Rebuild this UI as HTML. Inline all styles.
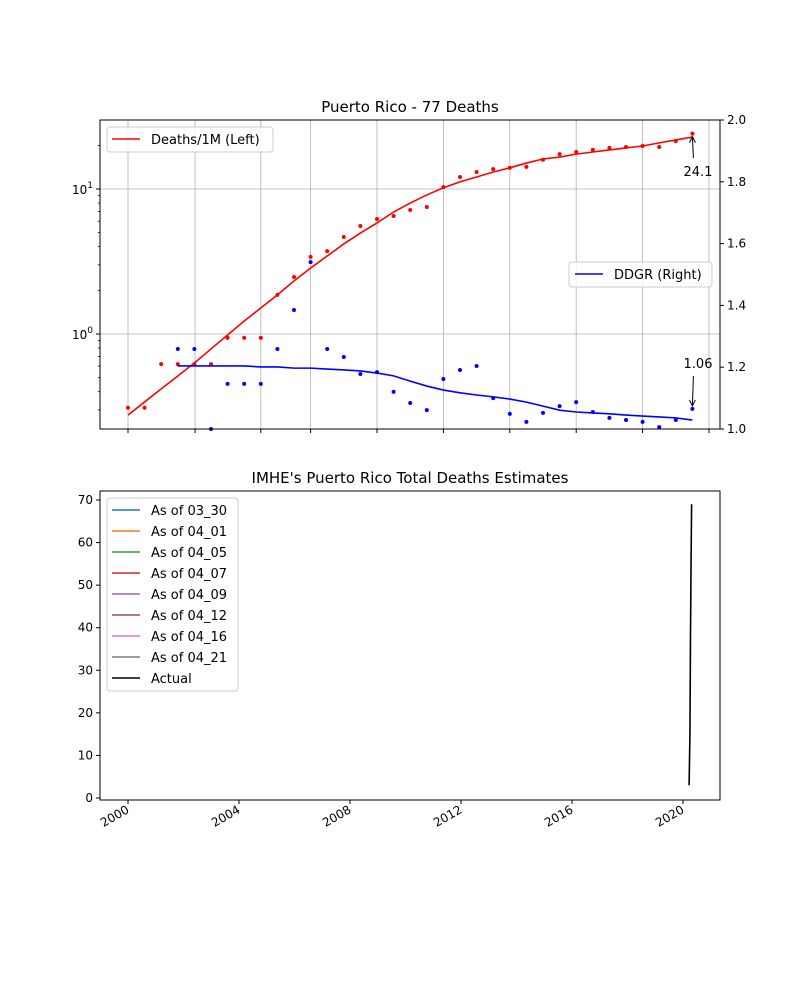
<!DOCTYPE html>
<html><head><meta charset="utf-8"><style>
body{margin:0;background:#fff}
svg text{font-family:"DejaVu Sans","Liberation Sans",sans-serif;fill:#000}
</style></head><body>
<svg id="c" width="800" height="1000" xmlns="http://www.w3.org/2000/svg"></svg>
<script>
const dayIdx=[0,1,2,3,4,5,6,7,8,9,10,11,12,13,14,15,16,17,18,19,20,21,22,23,24,25,26,27,28,29,30,31,32,33,34];
const deathsPts=[0.31,0.31,0.62,0.62,0.62,0.62,0.94,0.94,0.94,1.86,2.47,3.4,3.73,4.67,5.56,6.21,6.51,7.17,7.51,10.3,12.1,13.1,13.7,14.0,14.2,15.9,17.4,18.0,18.6,19.2,19.5,19.8,19.5,21.4,24.1];
const deathsFit=[0.276,0.34,0.418,0.513,0.631,0.789,0.984,1.23,1.51,1.86,2.32,2.85,3.45,4.18,4.97,5.83,6.94,8.0,9.1,10.2,11.2,12.1,13.1,14.0,15.1,16.1,16.6,17.4,18.0,18.6,19.2,19.8,20.8,21.8,22.8];
const ddgrStart=3;
const ddgrPts=[1.259,1.259,1.0,1.146,1.146,1.146,1.259,1.385,1.540,1.259,1.233,1.178,1.184,1.120,1.084,1.061,1.162,1.191,1.204,1.100,1.049,1.023,1.052,1.074,1.087,1.055,1.036,1.029,1.023,1.006,1.029,1.065];
const ddgrFit=[1.204,1.204,1.204,1.204,1.204,1.201,1.201,1.197,1.197,1.194,1.191,1.188,1.181,1.172,1.155,1.139,1.126,1.117,1.110,1.104,1.097,1.087,1.074,1.061,1.055,1.052,1.049,1.045,1.042,1.039,1.036,1.029];
const topGridDays=[0,4.04,8,11,15,19,23,27,31,35];
const leftTicks=[1,10];const leftTickLabels=["10$0","10$1"];
const rightTicks=[1.0,1.2,1.4,1.6,1.8,2.0];
const yearTicks=[2000,2004,2008,2012,2016,2020];
const countTicks=[0,10,20,30,40,50,60,70];
const actualYears=[2020.22,2020.25,2020.27,2020.29,2020.31];
const actualVals=[3,15,38,55,69];
const legendLabels=["As of 03_30","As of 04_01","As of 04_05","As of 04_07","As of 04_09","As of 04_12","As of 04_16","As of 04_21","Actual"];
const legendColors=["#1f77b4","#ff7f0e","#2ca02c","#d62728","#9467bd","#8c564b","#e377c2","#7f7f7f","#000"];

const S=document.getElementById('c');const NS='http://www.w3.org/2000/svg';
function mk(t,a,p,txt){const e=document.createElementNS(NS,t);for(const k in a)e.setAttribute(k,a[k]);if(txt!==undefined)e.textContent=txt;(p||S).appendChild(e);return e;}
const T={x0:100,x1:720,y0:120,y1:429};
const xd=d=>128+d*16.6;
const yl=v=>334-145*Math.log10(v);
const yr=v=>429-(v-1)*309;
const g1=mk('g',{});
mk('text',{x:410,y:112,'text-anchor':'middle','font-size':15},g1,'Puerto Rico - 77 Deaths');
topGridDays.forEach(d=>{const x=xd(d);mk('line',{x1:x,x2:x,y1:T.y0,y2:T.y1,stroke:'#b0b0b0','stroke-width':0.8},g1);mk('line',{x1:x,x2:x,y1:T.y1,y2:T.y1+4,stroke:'#000'},g1);});
leftTicks.forEach((v,i)=>{const y=yl(v);mk('line',{x1:T.x0,x2:T.x1,y1:y,y2:y,stroke:'#b0b0b0','stroke-width':0.8},g1);mk('line',{x1:T.x0-4,x2:T.x0,y1:y,y2:y,stroke:'#000'},g1);
 const t=mk('text',{x:T.x0-7,y:y+5,'text-anchor':'end','font-size':12},g1);
 const p=leftTickLabels[i].split('$');t.appendChild(document.createTextNode(p[0]));mk('tspan',{dy:-6,'font-size':9},t,p[1]);});
[0.3,0.4,0.5,0.6,0.7,0.8,0.9,2,3,4,5,6,7,8,9,20].forEach(v=>{const y=yl(v);if(y>T.y0&&y<T.y1)mk('line',{x1:T.x0-2,x2:T.x0,y1:y,y2:y,stroke:'#000','stroke-width':0.8},g1);});
rightTicks.forEach(v=>{const y=yr(v);mk('line',{x1:T.x1,x2:T.x1+4,y1:y,y2:y,stroke:'#000'},g1);const t=mk('text',{x:T.x1+7,y:y+4,'font-size':12},g1,v.toFixed(1));});
let p=mk('polyline',{points:dayIdx.map((d,i)=>xd(d)+','+yl(deathsFit[i])).join(' '),fill:'none',stroke:'#f00','stroke-width':1.6},g1);

dayIdx.forEach((d,i)=>{const c=mk('circle',{cx:xd(d),cy:yl(deathsPts[i]),r:2,fill:'#f00'},g1);});
p=mk('polyline',{points:ddgrFit.map((v,i)=>xd(dayIdx[i+ddgrStart])+','+yr(v)).join(' '),fill:'none',stroke:'#00f','stroke-width':1.6},g1);

ddgrPts.forEach((v,i)=>{const c=mk('circle',{cx:xd(dayIdx[i+ddgrStart]),cy:yr(v),r:2,fill:'#00f'},g1);});
const lx=xd(34);
mk('line',{x1:lx+1,x2:lx,y1:158,y2:yl(deathsPts[34])+3,stroke:'#000'},g1);mk('path',{d:`M${lx-3},${yl(deathsPts[34])+9} L${lx},${yl(deathsPts[34])+3} L${lx+3},${yl(deathsPts[34])+9}`,fill:'none',stroke:'#000'},g1);
mk('text',{x:698,y:176,'text-anchor':'middle','font-size':13},g1,deathsPts[34].toFixed(1));
const by=yr(ddgrPts[31]);
mk('line',{x1:lx+1,x2:lx,y1:376,y2:by-3,stroke:'#000'},g1);mk('path',{d:`M${lx-3},${by-9} L${lx},${by-3} L${lx+3},${by-9}`,fill:'none',stroke:'#000'},g1);
mk('text',{x:698,y:368,'text-anchor':'middle','font-size':13},g1,ddgrPts[31].toFixed(2));
mk('rect',{x:T.x0,y:T.y0,width:T.x1-T.x0,height:T.y1-T.y0,fill:'none',stroke:'#000','stroke-width':1},g1);
let lg=mk('g',{},g1);
mk('rect',{x:107,y:127,width:166,height:25,rx:3,fill:'#fff','fill-opacity':0.8,stroke:'#ccc'},lg);
mk('line',{x1:112,x2:140,y1:139,y2:139,stroke:'#f00','stroke-width':1.6},lg);mk('text',{x:151,y:144,'font-size':13},lg,'Deaths/1M (Left)');
lg=mk('g',{},g1);
mk('rect',{x:569,y:262,width:143,height:25,rx:3,fill:'#fff','fill-opacity':0.8,stroke:'#ccc'},lg);
mk('line',{x1:575,x2:603,y1:274,y2:274,stroke:'#00f','stroke-width':1.6},lg);mk('text',{x:614,y:279,'font-size':13},lg,'DDGR (Right)');
const B={x0:100,x1:720,y0:491,y1:800};
const xy=y=>128+(y-2000)*27.75;
const yc=v=>798-v*4.257;
const g2=mk('g',{});
mk('text',{x:410,y:483,'text-anchor':'middle','font-size':15},g2,"IMHE's Puerto Rico Total Deaths Estimates");
countTicks.forEach(v=>{const y=yc(v);mk('line',{x1:B.x0-4,x2:B.x0,y1:y,y2:y,stroke:'#000'},g2);const t=mk('text',{x:B.x0-7,y:y+4,'text-anchor':'end','font-size':12},g2,v);});
yearTicks.forEach(v=>{const x=xy(v);mk('line',{x1:x,x2:x,y1:B.y1,y2:B.y1+4,stroke:'#000'},g2);const t=mk('text',{x:x+2,y:B.y1+12,'text-anchor':'end','font-size':12,transform:`rotate(-30 ${x+2} ${B.y1+12})`},g2,v);});
p=mk('polyline',{points:actualYears.map((y,i)=>xy(y)+','+yc(actualVals[i])).join(' '),fill:'none',stroke:'#000','stroke-width':1.6},g2);

mk('rect',{x:B.x0,y:B.y0,width:B.x1-B.x0,height:B.y1-B.y0,fill:'none',stroke:'#000'},g2);
lg=mk('g',{},g2);
mk('rect',{x:107,y:498,width:131,height:193,rx:3,fill:'#fff','fill-opacity':0.8,stroke:'#ccc'},lg);
legendLabels.forEach((l,i)=>{const y=510+i*21;mk('line',{x1:112,x2:140,y1:y,y2:y,stroke:legendColors[i],'stroke-width':1.6},lg);const t=mk('text',{x:151,y:y+5,'font-size':13},lg,l);});
</script>
</body></html>
